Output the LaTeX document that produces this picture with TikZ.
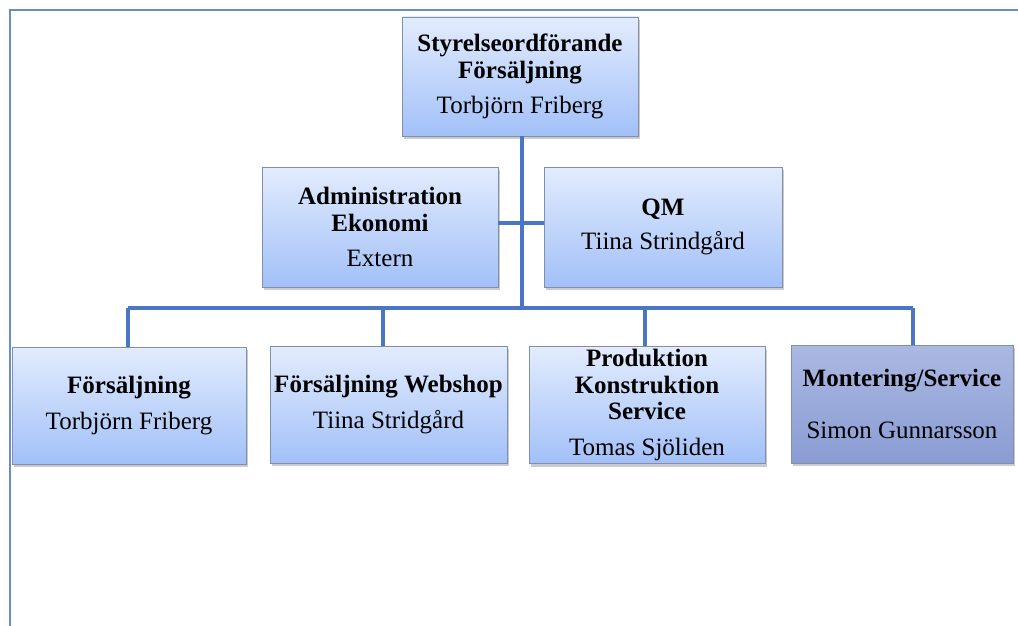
\documentclass[tikz,border=0pt]{standalone}
\usepackage{fontspec}
\setmainfont{Liberation Serif}
\usetikzlibrary{shadows,shadings}
\definecolor{boxtop}{HTML}{E2ECFD}
\definecolor{boxbot}{HTML}{A2C0F8}
\definecolor{darktop}{HTML}{AAB8E2}
\definecolor{darkbot}{HTML}{8A9CD3}
\definecolor{boxline}{HTML}{8090AA}
\definecolor{conncol}{HTML}{4A76C6}
\definecolor{framecol}{HTML}{6A8EC4}
\newcommand{\orgfont}{\fontsize{25}{26.5}\selectfont}
\begin{document}
\begin{tikzpicture}[x=1pt,y=-1pt,
  orgbox/.style={draw=boxline, line width=0.9pt, top color=boxtop, bottom color=boxbot,
    drop shadow={shadow xshift=2pt, shadow yshift=-3pt, opacity=0.45, fill=black!45},
    align=center, inner sep=0pt, font=\orgfont},
  darkbox/.style={orgbox, top color=darktop, bottom color=darkbot},
  connector/.style={draw=conncol, line width=4pt},
  framestyle/.style={draw=framecol, line width=2pt}]
\useasboundingbox (0,0) rectangle (1018,626);
\fill[white] (0,0) rectangle (1018,626);
\draw[framestyle] (1018,10) -- (10,10) -- (10,626);

\coordinate (mid) at (522,223);
\coordinate (bus) at (522,308);
\coordinate (d1) at (128,308);
\coordinate (d2) at (383,308);
\coordinate (d3) at (645,308);
\coordinate (d4) at (913,308);

\node[orgbox, minimum width=236pt, minimum height=119pt] (top) at (520,76.5)
  {\textbf{Styrelseordförande}\\\textbf{Försäljning}\\[9pt]Torbjörn Friberg};
\node[orgbox, minimum width=236pt, minimum height=120pt] (admin) at (380,227)
  {\textbf{Administration}\\\textbf{Ekonomi}\\[9pt]Extern};
\node[orgbox, minimum width=238pt, minimum height=120pt] (qm) at (663,227)
  {\textbf{QM}\\[8pt]Tiina Strindgård};
\node[orgbox, minimum width=234pt, minimum height=117pt] (b1) at (129,405.5)
  {\textbf{Försäljning}\\[10pt]Torbjörn Friberg};
\node[orgbox, minimum width=237pt, minimum height=117pt] (b2) at (388.5,404.5)
  {\textbf{Försäljning Webshop}\\[10pt]Tiina Stridgård};
\node[orgbox, minimum width=236pt, minimum height=117pt] (b3) at (647,405)
  {\textbf{Produktion}\\\textbf{Konstruktion}\\\textbf{Service}\\[9pt]Tomas Sjöliden};
\node[darkbox, minimum width=222pt, minimum height=118pt] (b4) at (902,404)
  {\textbf{Montering/Service}\\[26pt]Simon Gunnarsson};

\draw[connector] (top.south -| bus) -- (bus);
\draw[connector] (admin.east |- mid) -- (qm.west |- mid);
\draw[connector] (d1) -- (d4);
\draw[connector] (d1) -- (d1 |- b1.north);
\draw[connector] (d2) -- (d2 |- b2.north);
\draw[connector] (d3) -- (d3 |- b3.north);
\draw[connector] (d4) -- (d4 |- b4.north);
\end{tikzpicture}
\end{document}
